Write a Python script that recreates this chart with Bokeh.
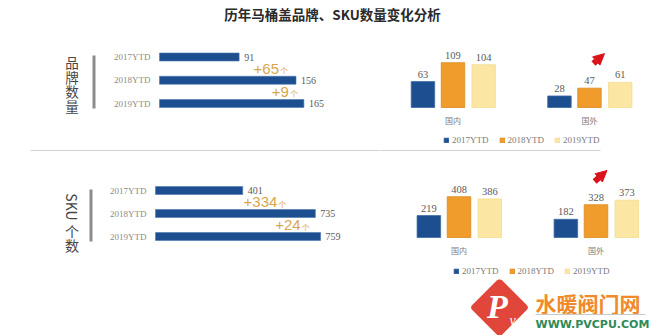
import math
from bokeh.plotting import figure
from bokeh.models import (ColumnDataSource, FactorRange, Range1d, Label, Legend,
                          LegendItem, Arrow, NormalHead, BoxAnnotation)
from bokeh.transform import dodge
from bokeh.layouts import column, row
from bokeh.embed import file_html
from bokeh.resources import INLINE
from bokeh.core.properties import value

# ---------------- data ----------------
TITLE = "历年马桶盖品牌、SKU数量变化分析"
years = ["2017YTD", "2018YTD", "2019YTD"]
brand_total = [91, 156, 165]
sku_total = [401, 735, 759]
regions = ["国内", "国外"]
brand_2017 = [63, 28]
brand_2018 = [109, 47]
brand_2019 = [104, 61]
sku_2017 = [219, 182]
sku_2018 = [408, 328]
sku_2019 = [386, 373]

BLUE = "#1d4e8f"
ORANGE = "#f09c2c"
YELLOW = "#fbe7a3"
GOLD = "#d8a64c"
RED = "#d9121b"
CJK = "Noto Sans CJK SC"
SERIF = "Liberation Serif"
SANS = "Liberation Sans"
W = 650


def base(width, height, xr, yr):
    p = figure(width=width, height=height, toolbar_location=None,
               output_backend="svg", x_range=xr, y_range=yr,
               x_axis_type=None, y_axis_type=None, min_border=0)
    p.outline_line_color = None
    p.grid.visible = False
    p.background_fill_color = "white"
    p.border_fill_color = "white"
    return p


def screen_label(p, x, y, text, size="14px", angle=0):
    p.add_layout(Label(x=x, y=y, x_units="screen", y_units="screen",
                       text=text, angle=angle, text_align="center",
                       text_baseline="middle", text_font=CJK,
                       text_font_size=size, text_color="#444444"))


def screen_box(p, left, right, bottom, top, color):
    p.add_layout(BoxAnnotation(left=left, right=right, bottom=bottom,
                               top=top, left_units="screen",
                               right_units="screen", top_units="screen",
                               bottom_units="screen", fill_color=color,
                               fill_alpha=1, line_color=None))


# ---------------- title strip ----------------
pt = base(W, 28, Range1d(0, W), Range1d(28, 0))
pt.add_layout(Label(x=332, y=13, text=TITLE, text_align="center",
                    text_baseline="middle", text_font=CJK,
                    text_font_size="13.5px", text_font_style="bold",
                    text_color="#2a2a2a"))


# ---------------- horizontal bar panels ----------------
def hbar_panel(height, x0px, pxu, y0px, step, totals, inc_dx):
    wd = 380
    p = base(wd, height, Range1d(-x0px / pxu, (wd - x0px) / pxu),
             Range1d((height - y0px) / step, -y0px / step))
    ypos = list(range(len(years)))
    src = ColumnDataSource(dict(y=ypos, cat=years, v=totals,
                                zero=[0] * len(years),
                                t=[str(v) for v in totals]))
    p.hbar(y="y", right="v", left=0, height=8.0 / step, fill_color=BLUE,
           line_color="#4a78b0", line_width=0.6, source=src)
    p.text(x="v", y="y", text="t", source=src, x_offset=5,
           text_baseline="middle", text_font=value(SERIF),
           text_font_size="10px", text_color="#5a5a5a")
    p.text(x="zero", y="y", text="cat", source=src, x_offset=-9,
           text_align="right", text_baseline="middle",
           text_font=value(SERIF), text_font_size="9px",
           text_color="#8a8a8a")
    inc = ColumnDataSource(dict(
        x=totals[1:], y=[ypos[i] + 0.5 for i in range(2)],
        t=["+%d" % (totals[i + 1] - totals[i]) for i in range(2)],
        dx=inc_dx, dx2=[d + 1 for d in inc_dx]))
    p.text(x="x", y="y", text="t", source=inc, x_offset="dx",
           text_align="right", text_baseline="middle",
           text_font=value(SANS), text_font_size="15px", text_color=GOLD)
    p.text(x="x", y="y", text=value("个"), source=inc, x_offset="dx2",
           y_offset=2, text_align="left", text_baseline="middle",
           text_font=value(CJK), text_font_size="8px", text_color=GOLD)
    return p


tl = hbar_panel(123, 159, 0.875, 28.5, 23.25, brand_total, [-17, -15])
for i, ch in enumerate("品牌数量"):
    screen_label(tl, 71.5, 89.5 - 14.5 * i, ch, size="13.5px")
screen_box(tl, 92, 95, 43, 96, "#8c8c8c")
screen_box(tl, 30, 380, 0, 1.5, "#d2d2d2")   # separator line (left part)

bl = hbar_panel(125, 155, 0.2175, 36, 23.0, sku_total, [-38, -20])
screen_label(bl, 71.5, 72.5, "SKU", angle=-math.pi / 2)
screen_label(bl, 71.5, 48.5, "个")
screen_label(bl, 71.5, 34.5, "数")
screen_box(bl, 89, 92, 38, 90, "#8c8c8c")


# ---------------- vertical grouped bar panels ----------------
def vbar_panel(height, pad, shift, yr, s17, s18, s19, legend_xy, arrow):
    p = base(270, height,
             FactorRange(factors=regions, range_padding=pad,
                         range_padding_units="absolute"), yr)
    src = ColumnDataSource(dict(x=regions, a=s17, b=s18, c=s19,
                                ta=[str(v) for v in s17],
                                tb=[str(v) for v in s18],
                                tc=[str(v) for v in s19],
                                base=[0, 0]))
    rends = []
    for col, off, fc, lc in [("a", -0.22, BLUE, "#3d6aa3"),
                             ("b", 0.0, ORANGE, "#d98a20"),
                             ("c", 0.225, YELLOW, "#f3dc90")]:
        xs = dodge("x", off + shift, range=p.x_range)
        rends.append(p.vbar(x=xs, top=col, width=0.172, source=src,
                            fill_color=fc, line_color=lc, line_width=0.8))
        p.text(x=xs, y=col, text="t" + col, source=src, y_offset=-4,
               text_align="center", text_baseline="bottom",
               text_font=value(SERIF), text_font_size="10.5px",
               text_color="#5a5a5a")
    # category labels under each group
    p.text(x=dodge("x", shift, range=p.x_range), y="base", text="x",
           source=src, y_offset=13, text_align="center",
           text_baseline="middle", text_font=value(CJK),
           text_font_size="8px", text_color="#7a7a7a")
    leg = Legend(items=[LegendItem(label=y, renderers=[r])
                        for y, r in zip(years, rends)],
                 orientation="horizontal", location=legend_xy,
                 glyph_width=6, glyph_height=6, label_standoff=3, spacing=10,
                 padding=0, margin=0, border_line_color=None,
                 background_fill_alpha=0, label_text_font=SERIF,
                 label_text_font_size="9px", label_text_color="#7a7a7a",
                 label_height=10)
    p.add_layout(leg)
    x0, y0, x1, y1 = arrow
    p.add_layout(Arrow(end=NormalHead(size=11, fill_color=RED, line_color=RED),
                       x_start=x0 + shift, y_start=y0, x_end=x1 + shift,
                       y_end=y1, line_color=RED, line_width=6))
    return p


tr = vbar_panel(123, -0.011, 0.042, Range1d(-107.1, 192.2),
                brand_2017, brand_2018, brand_2019, (63, 6.5),
                (1.529, 107, 1.61, 131))
screen_box(tr, 0, 220, 0, 1.5, "#d2d2d2")    # separator line (right part)
br = vbar_panel(125, -0.0146, 0.0876, Range1d(-420, 830),
                sku_2017, sku_2018, sku_2019, (73, 3.5),
                (1.49, 560, 1.58, 670))

# ---------------- spacer ----------------
sep = base(W, 3, Range1d(0, W), Range1d(0, 3))

# ---------------- logo strip ----------------
pl = base(W, 57, Range1d(0, W), Range1d(57, 0))
pl.scatter([499], [28], marker="square", size=35, angle=math.pi / 4,
           fill_color="#e0463a", line_color="#e0463a", line_width=7,
           line_join="round")
pl.text([497], [27], text=["P"], text_align="center", text_baseline="middle",
        text_font=value(SERIF), text_font_size="34px",
        text_font_style="bold italic", text_color="white")
pl.text([512], [41], text=["v"], text_align="center", text_baseline="middle",
        text_font=value(SERIF), text_font_size="14px",
        text_font_style="italic", text_color="white")
pl.text([535], [23], text=["水暖阀门网"], text_align="left",
        text_baseline="middle", text_font=value(CJK), text_font_size="21px",
        text_font_style="bold", text_color="#f08a2a")
pl.segment(x0=[535], y0=[35], x1=[645], y1=[35], line_color="#c8c8c8",
           line_width=1)
pl.text([535], [45], text=["WWW.PVCPU.COM"], text_align="left",
        text_baseline="middle", text_font=value("DejaVu Sans"),
        text_font_size="11px", text_font_style="bold", text_color="#2f8a58")

layout = column(pt, row(tl, tr), sep, row(bl, br), pl)

open("out.html", "w").write(file_html(layout, INLINE))
